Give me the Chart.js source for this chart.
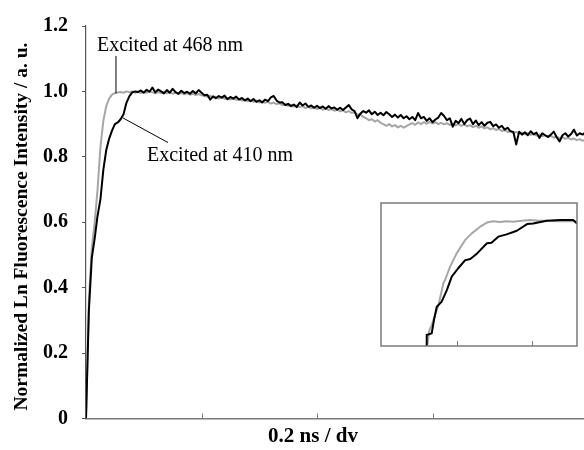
<!DOCTYPE html>
<html>
<head>
<meta charset="utf-8">
<script src="https://cdn.jsdelivr.net/npm/chart.js@4/dist/chart.umd.min.js"></script>
<style>
  html, body { margin: 0; padding: 0; background: #fff; }
  #wrap { position: relative; width: 584px; height: 450px; overflow: hidden; }
  #main { position: absolute; left: 0; top: 0; }
  #inset { position: absolute; left: 371px; top: 193px; }
</style>
</head>
<body>
<div id="wrap">
  <canvas id="main" width="584" height="450"></canvas>
  <canvas id="inset" width="213" height="160"></canvas>
</div>
<script>
// Sampling interval of the decay traces (ns)
const sampleInterval = 0.005;

// Normalized Ln emission, excitation at 410 nm
const signal410 = [
  0, 0.33, 0.49, 0.55, 0.62, 0.67, 0.76, 0.82, 0.855, 0.88,
  0.90, 0.905, 0.915, 0.93, 0.965, 0.985, 0.997, 1.0, 0.998, 1.003,
  0.996, 1.005, 0.999, 1.012, 0.997, 1.006, 1.0, 0.994, 1.004, 0.996,
  1.008, 0.998, 0.993, 1.002, 0.995, 0.999, 0.993, 1.001, 0.994, 1.004,
  0.996, 0.988, 0.99, 0.975, 0.985, 0.979, 0.986, 0.981, 0.987, 0.976,
  0.983, 0.978, 0.984, 0.975, 0.98, 0.972, 0.978, 0.97, 0.977, 0.968,
  0.973, 0.966, 0.975, 0.97, 0.982, 0.986, 0.972, 0.966, 0.967, 0.958,
  0.962, 0.955, 0.96, 0.952, 0.966, 0.957, 0.963, 0.953, 0.957, 0.95,
  0.956, 0.949, 0.954, 0.947, 0.955, 0.948, 0.951, 0.944, 0.95, 0.943,
  0.951, 0.958, 0.945, 0.94, 0.918, 0.932, 0.94, 0.935, 0.942, 0.93,
  0.938, 0.928, 0.935, 0.927, 0.937, 0.93, 0.922, 0.929, 0.92, 0.928,
  0.918, 0.924, 0.915, 0.922, 0.912, 0.934, 0.918, 0.922, 0.91, 0.918,
  0.906, 0.914, 0.92, 0.934, 0.925, 0.912, 0.918, 0.892, 0.91, 0.903,
  0.916, 0.9, 0.912, 0.917, 0.9, 0.911, 0.897, 0.906, 0.895, 0.904,
  0.907, 0.894, 0.899, 0.889, 0.895, 0.883, 0.889, 0.878, 0.876, 0.838,
  0.877, 0.868, 0.875, 0.866, 0.878, 0.869, 0.874, 0.858, 0.872, 0.866,
  0.861, 0.868, 0.877, 0.86, 0.847, 0.866, 0.872, 0.862, 0.87, 0.883,
  0.865, 0.872, 0.868, 0.875
];

// Normalized Ln emission, excitation at 468 nm
const signal468 = [
  0, 0.36, 0.52, 0.60, 0.70, 0.83, 0.91, 0.955, 0.978, 0.99,
  0.995, 0.997, 0.998, 0.996, 1.0, 0.997, 1.0, 0.996, 0.999, 0.995,
  0.999, 0.996, 1.0, 0.997, 0.994, 0.998, 0.995, 0.999, 0.994, 0.997,
  0.993, 0.996, 0.992, 0.995, 0.991, 0.994, 0.99, 0.993, 0.989, 0.992,
  0.988, 0.986, 0.984, 0.987, 0.981, 0.984, 0.978, 0.982, 0.977, 0.98,
  0.975, 0.979, 0.974, 0.977, 0.972, 0.975, 0.97, 0.973, 0.968, 0.972,
  0.966, 0.969, 0.965, 0.968, 0.963, 0.966, 0.961, 0.964, 0.958, 0.962,
  0.956, 0.959, 0.953, 0.957, 0.952, 0.955, 0.949, 0.953, 0.948, 0.951,
  0.946, 0.95, 0.944, 0.948, 0.943, 0.946, 0.941, 0.944, 0.939, 0.942,
  0.936, 0.94, 0.934, 0.936, 0.928, 0.93, 0.922, 0.918, 0.912, 0.915,
  0.908, 0.912, 0.904, 0.9, 0.895, 0.9, 0.893, 0.897, 0.89, 0.895,
  0.889, 0.894, 0.899, 0.903, 0.898, 0.905, 0.9, 0.906, 0.901, 0.907,
  0.902, 0.906, 0.9, 0.904, 0.899, 0.903, 0.897, 0.902, 0.896, 0.9,
  0.895, 0.899, 0.893, 0.897, 0.891, 0.895, 0.889, 0.893, 0.887, 0.89,
  0.884, 0.888, 0.882, 0.885, 0.879, 0.882, 0.876, 0.879, 0.873, 0.876,
  0.871, 0.874, 0.869, 0.872, 0.867, 0.87, 0.865, 0.868, 0.863, 0.866,
  0.861, 0.864, 0.859, 0.862, 0.857, 0.86, 0.855, 0.858, 0.853, 0.856,
  0.851, 0.854, 0.849, 0.852
];

// Y axis tick labels
const yTickLabels = ['0', '0.2', '0.4', '0.6', '0.8', '1.0', '1.2'];

// Expanded view of the rising edge (inset), in inset divisions
const insetTime410 = [0.604, 0.604, 0.67, 0.70, 0.737, 0.80, 0.87, 0.935, 1.02, 1.11, 1.18, 1.27, 1.40, 1.46, 1.55, 1.66, 1.795, 1.93, 2.01, 2.19, 2.37, 2.54, 2.59];
const insetSignal410 = [0, 0.087, 0.10, 0.206, 0.312, 0.35, 0.444, 0.55, 0.617, 0.68, 0.69, 0.735, 0.815, 0.82, 0.868, 0.886, 0.915, 0.968, 0.973, 0.994, 1.0, 1.0, 0.973];
const insetTime468 = [0.61, 0.64, 0.67, 0.76, 0.825, 0.847, 0.913, 1.0, 1.11, 1.2, 1.31, 1.40, 1.48, 1.57, 1.66, 1.75, 1.86, 1.97, 2.08, 2.19, 2.30, 2.45, 2.57];
const insetSignal468 = [0, 0.127, 0.166, 0.325, 0.5, 0.524, 0.63, 0.735, 0.84, 0.894, 0.947, 0.98, 0.99, 0.985, 0.99, 0.987, 0.995, 1.0, 0.995, 0.994, 0.99, 0.992, 0.99];
const insetTicks = [1, 2];

// Curve labels with leader lines, in data coordinates (ns, intensity)
const curveLabels = [
  { text: 'Excited at 468 nm', at: [0.0190, 1.1233], leader: [[0.0519, 1.1083], [0.0519, 0.994]] },
  { text: 'Excited at 410 nm', at: [0.1056, 0.7865], leader: [[0.0641, 0.9188], [0.1420, 0.8436]] }
];

const SERIF = '"Liberation Serif", "Times New Roman", serif';
const AXIS_GREY = '#7a7a7a';

const toPoints = (arr) => arr.map((v, i) => ({ x: i * sampleInterval, y: v }));
const zipPoints = (xs, ys) => xs.map((x, i) => ({ x: x, y: ys[i] }));

const mainDecor = {
  id: 'mainDecor',
  afterDraw(chart) {
    const { ctx, chartArea, scales } = chart;
    const xs = scales.x, ys = scales.y;
    ctx.save();
    // inward tick marks on the time axis
    ctx.strokeStyle = AXIS_GREY;
    ctx.lineWidth = 1;
    xs.ticks.forEach(t => {
      if (t.value <= 0) return;
      const px = Math.round(xs.getPixelForValue(t.value)) + 0.5;
      ctx.beginPath();
      ctx.moveTo(px, chartArea.bottom);
      ctx.lineTo(px, chartArea.bottom - 5);
      ctx.stroke();
    });
    // curve labels
    ctx.fillStyle = '#000';
    ctx.strokeStyle = '#000';
    ctx.font = '20px ' + SERIF;
    ctx.textAlign = 'left';
    ctx.textBaseline = 'alphabetic';
    curveLabels.forEach(l => {
      ctx.fillText(l.text, xs.getPixelForValue(l.at[0]), ys.getPixelForValue(l.at[1]));
      ctx.beginPath();
      ctx.moveTo(xs.getPixelForValue(l.leader[0][0]), ys.getPixelForValue(l.leader[0][1]));
      ctx.lineTo(xs.getPixelForValue(l.leader[1][0]), ys.getPixelForValue(l.leader[1][1]));
      ctx.stroke();
    });
    // axis titles
    ctx.font = 'bold 21px ' + SERIF;
    ctx.textAlign = 'center';
    ctx.fillText('0.2 ns / dv', 313, 441.5);
    ctx.save();
    ctx.translate(27, 226.5);
    ctx.rotate(-Math.PI / 2);
    ctx.font = 'bold 19.5px ' + SERIF;
    ctx.fillText('Normalized Ln Fluorescence Intensity / a. u.', 0, 0);
    ctx.restore();
    ctx.restore();
  }
};

new Chart(document.getElementById('main'), {
  type: 'line',
  data: {
    datasets: [
      { label: 'Excited at 410 nm', data: toPoints(signal410), borderColor: '#000', borderWidth: 2, pointRadius: 0, tension: 0, borderJoinStyle: 'round' },
      { label: 'Excited at 468 nm', data: toPoints(signal468), borderColor: '#a6a6a6', borderWidth: 2, pointRadius: 0, tension: 0, borderJoinStyle: 'round' }
    ]
  },
  options: {
    responsive: false,
    animation: false,
    events: [],
    layout: { padding: { top: 19.5, left: 0, right: 0, bottom: 0 } },
    plugins: { legend: { display: false }, tooltip: { enabled: false } },
    scales: {
      x: {
        type: 'linear', min: 0, max: 0.8623,
        grid: { display: true, drawOnChartArea: false, drawTicks: false },
        border: { display: true, color: AXIS_GREY, width: 1.5 },
        ticks: { display: false, stepSize: 0.2 },
        afterFit(s) { s.height = 31.5; }
      },
      y: {
        min: 0, max: 1.2,
        grid: { drawOnChartArea: false, tickLength: 4, color: '#555', lineWidth: 1 },
        border: { display: true, color: '#555', width: 1.2 },
        ticks: {
          stepSize: 0.2, padding: 14, color: '#000',
          font: { family: SERIF, size: 20, weight: 'bold' },
          callback: (v, i) => yTickLabels[i]
        },
        afterFit(s) { s.width = 86; }
      }
    }
  },
  plugins: [mainDecor]
});

const insetFrame = {
  id: 'insetFrame',
  afterDraw(chart) {
    const { ctx, chartArea, scales } = chart;
    ctx.save();
    ctx.strokeStyle = AXIS_GREY;
    ctx.lineWidth = 1.5;
    ctx.strokeRect(chartArea.left, chartArea.top, chartArea.right - chartArea.left, chartArea.bottom - chartArea.top);
    ctx.lineWidth = 1;
    insetTicks.forEach(v => {
      const px = Math.round(scales.x.getPixelForValue(v)) + 0.5;
      ctx.beginPath();
      ctx.moveTo(px, chartArea.bottom);
      ctx.lineTo(px, chartArea.bottom - 5);
      ctx.stroke();
    });
    ctx.restore();
  }
};

new Chart(document.getElementById('inset'), {
  type: 'line',
  data: {
    datasets: [
      { data: zipPoints(insetTime410, insetSignal410), borderColor: '#000', borderWidth: 2, pointRadius: 0, tension: 0, borderJoinStyle: 'round' },
      { data: zipPoints(insetTime468, insetSignal468), borderColor: '#a6a6a6', borderWidth: 2, pointRadius: 0, tension: 0, borderJoinStyle: 'round' }
    ]
  },
  options: {
    responsive: false,
    animation: false,
    events: [],
    layout: { padding: { left: 10, top: 10, right: 7, bottom: 7 } },
    plugins: { legend: { display: false }, tooltip: { enabled: false } },
    scales: {
      x: { type: 'linear', display: false, min: 0, max: 2.59 },
      y: { display: false, min: 0, max: 1.135 }
    }
  },
  plugins: [insetFrame]
});
</script>
</body>
</html>
